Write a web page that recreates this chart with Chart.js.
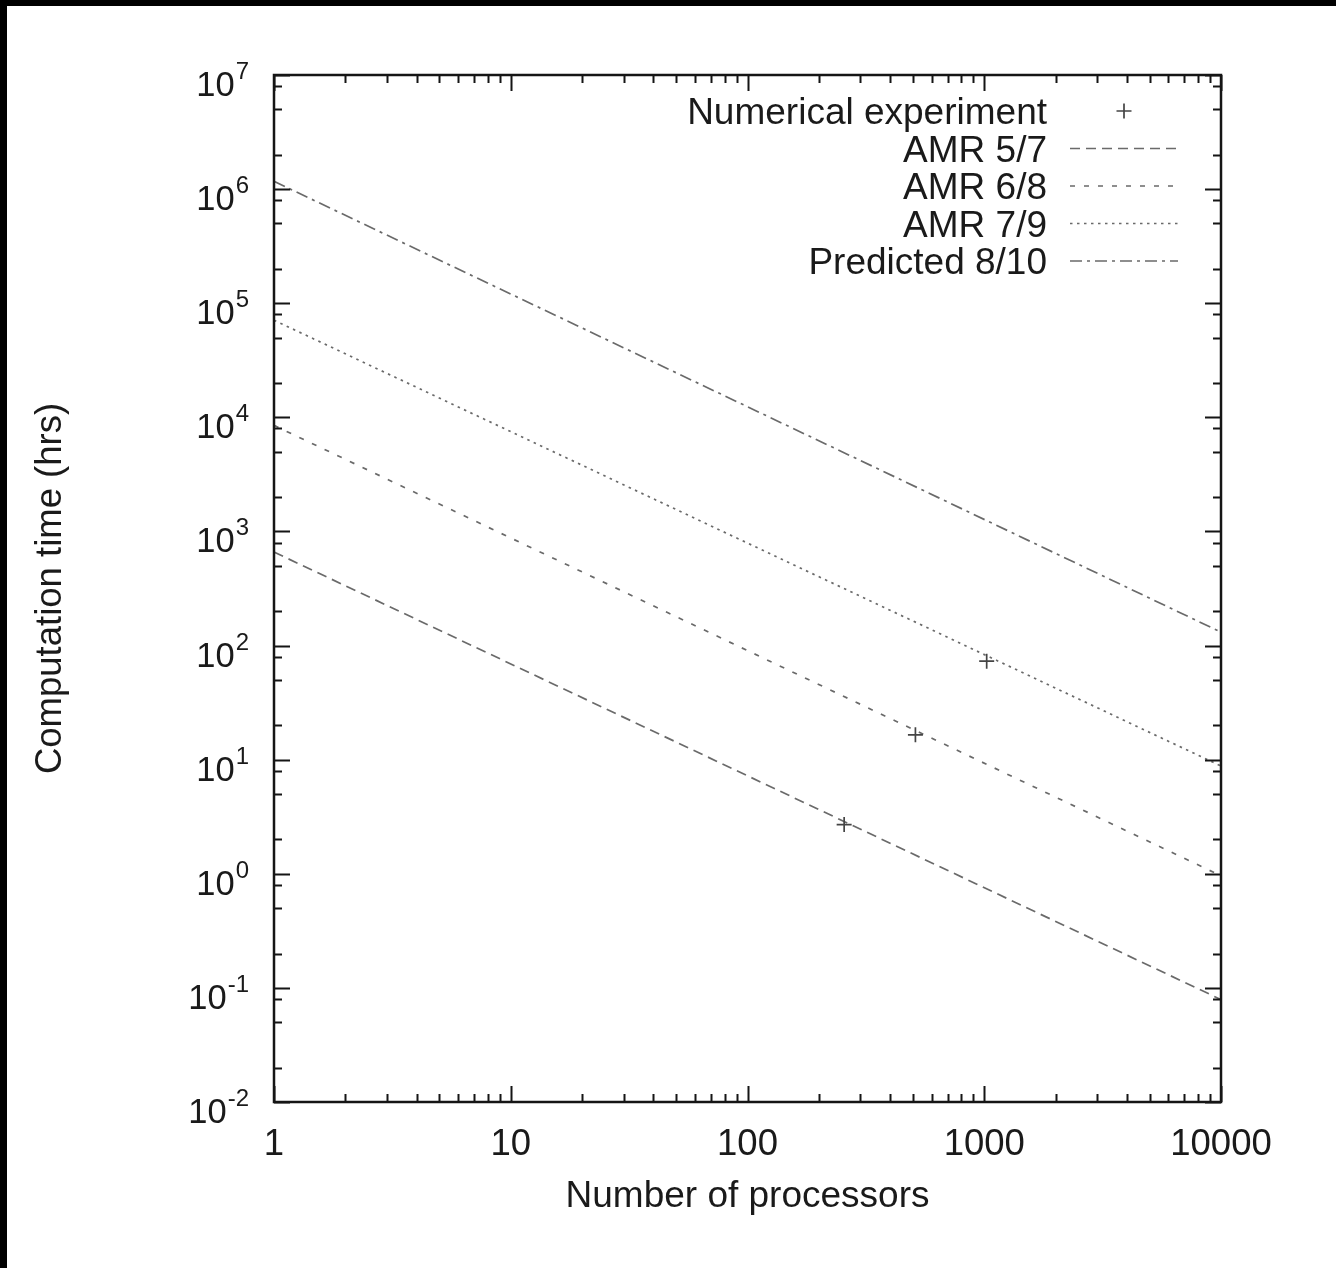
<!DOCTYPE html>
<html><head><meta charset="utf-8">
<script src="https://cdn.jsdelivr.net/npm/chart.js@4.4.1/dist/chart.umd.min.js"></script>
<style>
html,body{margin:0;padding:0;background:#000;width:1336px;height:1268px;overflow:hidden}
#wrap{position:absolute;left:7px;top:6px;width:1329px;height:1262px;background:#fff}
canvas{display:block}
</style></head><body>
<div id="wrap"><canvas id="c" width="1329" height="1262"></canvas></div>
<script>
// ---- data ----
const seriesLabels = ['Numerical experiment', 'AMR 5/7', 'AMR 6/8', 'AMR 7/9', 'Predicted 8/10'];
const lineProcessors = [1, 10000];
const amr57 = [660, 0.079];
const amr68 = [8500, 0.96];
const amr79 = [71000, 8.8];
const predicted810 = [1170000, 131];
const expProcessors = [256, 512, 1024];
const expTimes = [2.7, 16.5, 73];
const xTickLabels = ['1', '10', '100', '1000', '10000'];
const xMinorSteps = [2, 3, 4, 5, 6, 7, 8, 9];
const yTickExponents = ['-2', '-1', '0', '1', '2', '3', '4', '5', '6', '7'];
const yMinorSteps = [2, 5, 8];

const FONT = "'Liberation Sans', Arial, Helvetica, sans-serif";
const TEXT = '#1a1a1a';
const LINE = '#6a6a6a';

const pts = (xs, ys) => xs.map((x, i) => ({x, y: ys[i]}));

// tick value lists built from the label arrays
const xMajorVals = xTickLabels.map(Number);
const xTickVals = [];
xMajorVals.forEach((v, i) => { xTickVals.push(v); if (i < xMajorVals.length - 1) xMinorSteps.forEach(m => xTickVals.push(m * v)); });
const yMajorVals = yTickExponents.map(e => Number('1e' + e));
const yTickVals = [];
yMajorVals.forEach((v, i) => { yTickVals.push(v); if (i < yMajorVals.length - 1) yMinorSteps.forEach(m => yTickVals.push(Number(m + 'e' + yTickExponents[i]))); });
const isMajor = (vals, v) => vals.some(m => Math.abs(m - v) / m < 1e-9);

const frameTicks = {
  id: 'frameTicks',
  afterDatasetsDraw(chart) {
    const {ctx, chartArea: a, scales: {x, y}} = chart;
    ctx.save();
    ctx.strokeStyle = '#151515';
    ctx.lineWidth = 2;
    ctx.setLineDash([]);
    ctx.beginPath();
    x.ticks.forEach(t => {
      const px = Math.round(x.getPixelForValue(t.value)) + 0.5;
      const len = isMajor(xMajorVals, t.value) ? 16 : 8;
      ctx.moveTo(px, a.bottom); ctx.lineTo(px, a.bottom - len);
      ctx.moveTo(px, a.top); ctx.lineTo(px, a.top + len);
    });
    y.ticks.forEach(t => {
      const py = Math.round(y.getPixelForValue(t.value)) + 0.5;
      const len = isMajor(yMajorVals, t.value) ? 16 : 8;
      ctx.moveTo(a.left, py); ctx.lineTo(a.left + len, py);
      ctx.moveTo(a.right, py); ctx.lineTo(a.right - len, py);
    });
    ctx.stroke();
    ctx.lineWidth = 2.5;
    ctx.strokeRect(a.left, a.top, a.right - a.left, a.bottom - a.top);
    // y tick labels 10^n
    ctx.fillStyle = TEXT;
    ctx.textBaseline = 'alphabetic';
    ctx.textAlign = 'right';
    const rightEdge = 242;
    yMajorVals.forEach((v, i) => {
      const py = y.getPixelForValue(v);
      const sup = yTickExponents[i];
      ctx.font = '24px ' + FONT;
      const w = ctx.measureText(sup).width;
      ctx.fillText(sup, rightEdge, py + 4);
      ctx.font = '34.5px ' + FONT;
      ctx.fillText('10', rightEdge - w - 1, py + 21);
    });
    ctx.restore();
  }
};

const keyPlugin = {
  id: 'keyPlugin',
  afterDraw(chart) {
    const {ctx} = chart;
    const rows = [105, 142.5, 180, 217.5, 255];
    const textRight = 1040, s0 = 1063, s1 = 1171;
    ctx.save();
    chart.data.datasets.forEach((ds, i) => {
      const ry = rows[i];
      ctx.font = '37px ' + FONT;
      ctx.fillStyle = TEXT;
      ctx.textAlign = 'right';
      ctx.textBaseline = 'alphabetic';
      ctx.fillText(ds.label, textRight, ry + 13);
      ctx.strokeStyle = ds.borderColor;
      ctx.lineWidth = ds.borderWidth;
      ctx.beginPath();
      if (ds.showLine === false) {
        ctx.setLineDash([]);
        const cx = (s0 + s1) / 2, r = 7.5;
        ctx.moveTo(cx - r, ry); ctx.lineTo(cx + r, ry);
        ctx.moveTo(cx, ry - r); ctx.lineTo(cx, ry + r);
      } else {
        ctx.setLineDash(ds.borderDash || []);
        ctx.moveTo(s0, ry); ctx.lineTo(s1, ry);
      }
      ctx.stroke();
    });
    ctx.restore();
  }
};

const lineDs = (label, ys, dash) => ({
  label, data: pts(lineProcessors, ys), borderColor: LINE, borderWidth: 1.7,
  borderDash: dash, pointRadius: 0, fill: false, tension: 0
});

new Chart(document.getElementById('c'), {
  type: 'line',
  data: {
    datasets: [
      { label: seriesLabels[0], data: pts(expProcessors, expTimes), showLine: false,
        pointStyle: 'cross', pointRadius: 7.5, borderColor: '#444', borderWidth: 1.7,
        pointBorderColor: '#444', pointBorderWidth: 1.7 },
      lineDs(seriesLabels[1], amr57, [10, 6]),
      lineDs(seriesLabels[2], amr68, [5, 9]),
      lineDs(seriesLabels[3], amr79, [2.5, 4.5]),
      lineDs(seriesLabels[4], predicted810, [12, 5, 3, 5])
    ]
  },
  options: {
    responsive: false,
    animation: false,
    events: [],
    layout: { padding: { left: 0, top: 69, right: 115, bottom: 0 } },
    plugins: { legend: { display: false }, tooltip: { enabled: false } },
    scales: {
      x: {
        type: 'logarithmic', position: 'bottom', min: 1, max: 10000,
        afterBuildTicks: s => { s.ticks = xTickVals.map(v => ({value: v})); },
        afterFit: s => { s.height = 166; },
        grid: { display: false }, border: { display: false },
        ticks: {
          autoSkip: false, maxRotation: 0, minRotation: 0, padding: 13,
          color: TEXT, font: { family: FONT, size: 36.5 },
          callback: v => { const i = xMajorVals.findIndex(m => Math.abs(m - v) / m < 1e-9); return i >= 0 ? xTickLabels[i] : ''; }
        },
        title: { display: true, text: 'Number of processors', color: TEXT,
          font: { family: FONT, size: 37 }, padding: { top: 0, bottom: 49 } }
      },
      y: {
        type: 'logarithmic', position: 'left', min: 0.01, max: 1e7,
        afterBuildTicks: s => { s.ticks = yTickVals.map(v => ({value: v})); },
        afterFit: s => { s.width = 267; },
        grid: { display: false }, border: { display: false },
        ticks: { display: false },
        title: { display: true, text: 'Computation time (hrs)', color: TEXT,
          font: { family: FONT, size: 36.5 }, padding: { top: 22, bottom: 0 } }
      }
    }
  },
  plugins: [frameTicks, keyPlugin]
});
</script>
</body></html>
